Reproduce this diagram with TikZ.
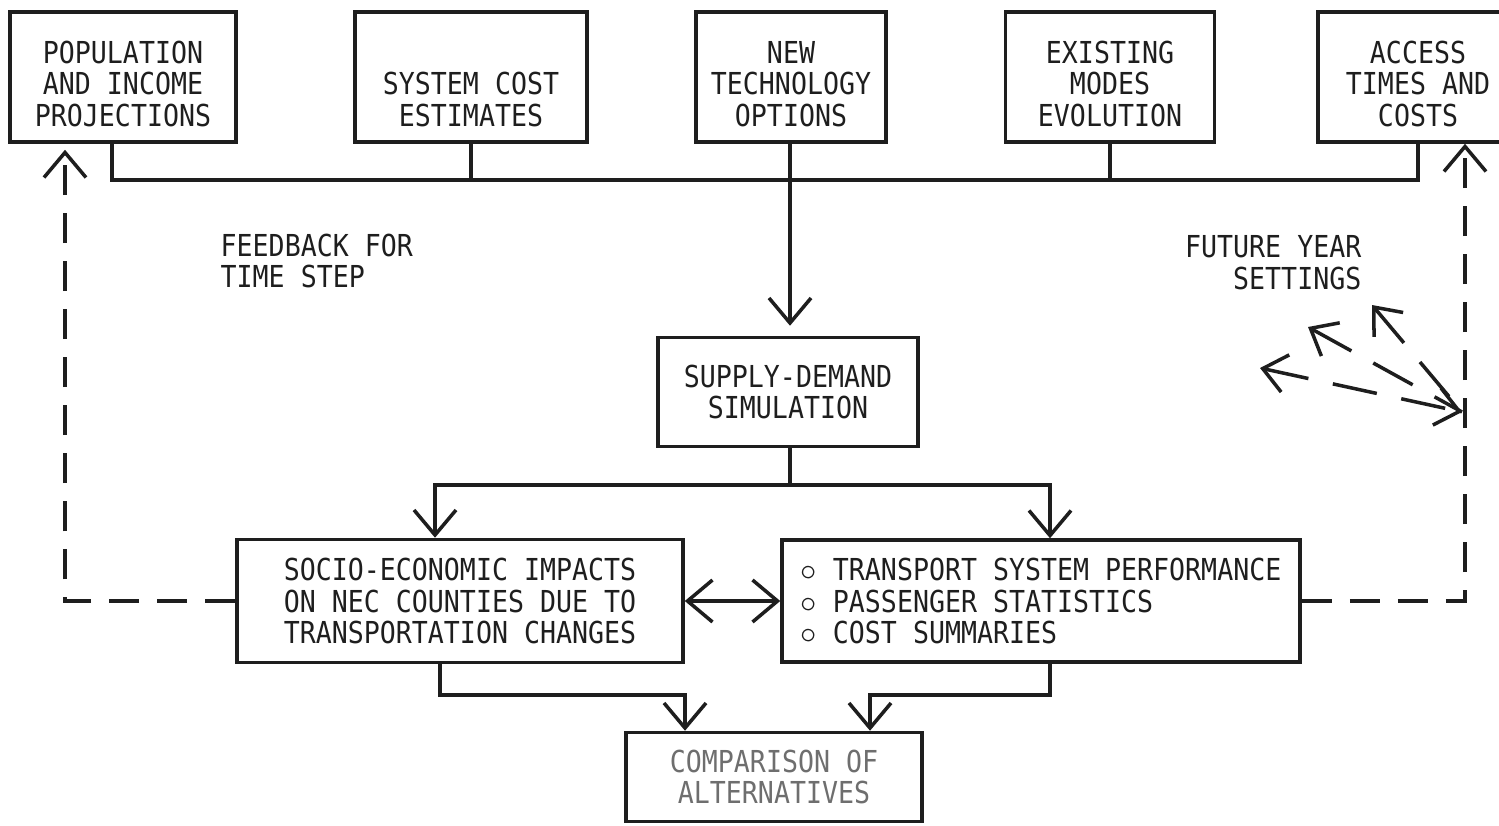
\documentclass[tikz,border=0pt]{standalone}
\usepackage{fontspec}
\newfontfamily\typed[FakeStretch=0.88]{DejaVu Sans Mono}
\usetikzlibrary{arrows.meta,positioning}
\definecolor{ink}{HTML}{1E1E1E}
\definecolor{faded}{HTML}{6E6E6E}
\newcommand{\padtop}{\rule{0pt}{10.3pt}}

\begin{document}
\begin{tikzpicture}[
    every node/.style={font={\typed\fontsize{8.6}{9}\selectfont}, text=ink},
    box/.style={rectangle, draw=ink, line width=1pt, align=center,
        inner sep=0pt, minimum height=1.3cm},
    note/.style={inner sep=0pt},
    conn/.style={draw=ink, line width=1pt},
    arr/.style={conn, -{Straight Barb[length=2.5mm, width=4.2mm]}},
    fb/.style={arr, dash pattern=on 3mm off 1.8mm},
    fan/.style={conn, dash pattern=on 4.5mm off 2.5mm},
]
\useasboundingbox (0,0) rectangle (14.99,8.25);

% Input boxes
\node[box, minimum width=2.26cm] (pop) at (1.23, 7.48) {\padtop POPULATION\\AND INCOME\\PROJECTIONS};
\node[box, minimum width=2.32cm] (cost) at (4.71, 7.48) {\padtop\\SYSTEM COST\\ESTIMATES};
\node[box, minimum width=1.90cm] (tech) at (7.91, 7.48) {\padtop NEW\\TECHNOLOGY\\OPTIONS};
\node[box, minimum width=2.09cm] (modes) at (11.10, 7.48) {\padtop EXISTING\\MODES\\EVOLUTION};
\node[box, minimum width=2.00cm] (access) at (14.18, 7.48) {\padtop ACCESS\\TIMES AND\\COSTS};

% Simulation and outputs
\node[box, minimum width=2.60cm, minimum height=1.09cm] (sim) at (7.88, 4.33) {SUPPLY-DEMAND\\SIMULATION};
\node[box, minimum width=4.46cm, minimum height=1.23cm] (socio) at (4.60, 2.24)
    {SOCIO-ECONOMIC IMPACTS\\ON NEC COUNTIES DUE TO\\TRANSPORTATION CHANGES};
\node[box, minimum width=5.18cm, minimum height=1.22cm, align=left] (trans) at (10.41, 2.24)
    {$\circ$ TRANSPORT SYSTEM PERFORMANCE\\$\circ$ PASSENGER STATISTICS\\$\circ$ COST SUMMARIES};
\node[box, minimum width=2.96cm, minimum height=0.89cm, text=faded] (comp) at (7.74, 0.48)
    {COMPARISON OF\\ALTERNATIVES};

% Side notes
\node[note, anchor=west, align=left] (fbtext) at (2.20, 5.64) {FEEDBACK FOR\\TIME STEP};
\node[note, anchor=east, align=right] (fytext) at (13.62, 5.62) {FUTURE YEAR\\SETTINGS};

% Collecting line
\coordinate (bus) at (7.90, 6.45);
\draw[conn] ([xshift=-1.1mm]pop.south) |- (access.south |- bus) -- (access.south);
\draw[conn] (cost.south) -- (cost.south |- bus);
\draw[conn] (modes.south) -- (modes.south |- bus);
\draw[arr, shorten >=1mm] (tech.south -| bus) -- (sim.north -| bus);

% Split to outputs
\coordinate (split) at (7.90, 3.40);
\draw[conn] (sim.south -| split) -- (split);
\draw[arr] (split) -| ([xshift=-2.5mm]socio.north);
\draw[arr] (split) -| ([xshift=0.9mm]trans.north);
\draw[{Straight Barb[length=2.5mm, width=4.2mm]}-{Straight Barb[length=2.5mm, width=4.2mm]}, conn]
    (socio.east) -- (trans.west);

% Merge to comparison
\coordinate (merge) at (7.74, 1.30);
\draw[arr] ([xshift=-2mm]socio.south) |- ([xshift=-8.9mm]comp.north |- merge) -- ([xshift=-8.9mm]comp.north);
\draw[arr] ([xshift=0.9mm]trans.south) |- ([xshift=9.6mm]comp.north |- merge) -- ([xshift=9.6mm]comp.north);

% Feedback loops
\coordinate (fbleft) at (0.65, 2.24);
\coordinate (fbright) at (14.65, 2.24);
\draw[fb, shorten >=0.6mm] (socio.west) -| (fbleft |- pop.south);
\draw[fb] (trans.east) -| (fbright |- access.south);

% Future year fan
\coordinate (fanroot) at (14.62, 4.13);
\coordinate (fan1) at (12.60, 4.57);
\coordinate (fan2) at (13.08, 4.98);
\coordinate (fan3) at (13.72, 5.20);
\draw[fan, {Straight Barb[length=2.3mm, width=3.8mm]}-{Straight Barb[length=2.3mm, width=3.8mm]}] (fan1) -- (fanroot);
\draw[fan, {Straight Barb[length=2.3mm, width=3.8mm]}-] (fan2) -- (fanroot);
\draw[fan, {Straight Barb[length=2.3mm, width=3.8mm]}-] (fan3) -- (fanroot);

\end{tikzpicture}
\end{document}
